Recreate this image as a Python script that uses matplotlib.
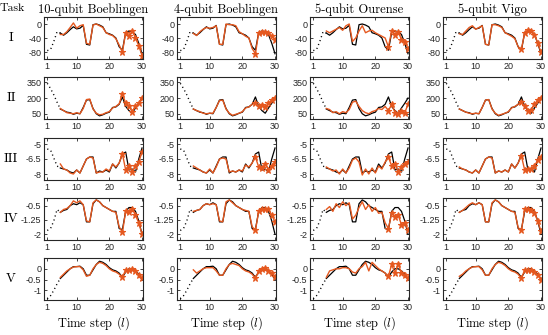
import numpy as np
import matplotlib
matplotlib.use("Agg")
from matplotlib import pyplot as plt

plt.rcParams['axes.unicode_minus'] = False
plt.rcParams['mathtext.fontset'] = 'cm'

steps = np.arange(1, 31)
pred_steps = np.arange(5, 31)

devices = ["10-qubit Boeblingen", "4-qubit Boeblingen", "5-qubit Ourense", "5-qubit Vigo"]
tasks = ["I", "II", "III", "IV", "V"]

# ground truth per task (steps 1..30)
truth_I = [-76, -73, -50, -22, -26, -32, -25, -16, -8, -14, -12, -4, -58, -60, -2, 0, -3, -8, -25, -28,
           -32, -40, -65, -75, -24, -20, -22, -30, -55, -85]
truth_II = [340, 290, 230, 160, 95, 80, 65, 60, 45, 55, 50, 110, 180, 185, 100, 50, 30, 40, 55, 65,
            110, 115, 140, 210, 120, 80, 55, 105, 150, 200]
truth_III = [-5.5, -5.6, -6.4, -7.2, -7.4, -7.5, -7.6, -7.8, -7.9, -7.6, -7.9, -7.2, -6.5, -6.3, -6.3, -7.9, -7.7, -7.8, -7.6, -7.8,
             -7.0, -7.4, -6.9, -6.0, -5.8, -7.6, -7.5, -7.8, -6.5, -5.4]
truth_IV = [-1.8, -1.7, -1.3, -0.7, -0.85, -0.75, -0.7, -0.5, -0.4, -0.45, -0.35, -0.45, -1.35, -1.35, -0.4, -0.2, -0.3, -0.5, -0.6, -0.7,
            -0.8, -0.8, -1.7, -1.75, -0.8, -0.6, -0.6, -0.8, -1.3, -2.0]
truth_V = [-1.4, -1.25, -1.0, -0.7, -0.45, -0.3, -0.15, 0.0, 0.1, 0.1, 0.12, 0.0, -0.3, -0.3, -0.05, 0.2, 0.35, 0.3, 0.2, 0.05,
           -0.05, -0.1, -0.2, -0.4, -0.15, 0.0, 0.0, -0.1, -0.25, -0.5]

# predictions per task and device (steps 5..30)
pred_I = [
    [-30, -30, -22, -10, 3, -12, -5, -2, -55, -58, -3, 0, -5, -10, -25, -30, -33, -42, -60, -80, -25, -35, -20, -40, -62, -90],
    [-27, -33, -22, -15, -10, -12, -10, -5, -58, -58, 0, -2, -2, -5, -22, -28, -35, -40, -70, -85, -25, -22, -22, -25, -35, -45],
    [-20, -25, -20, -15, -10, -18, -5, 0, -50, -40, -20, -5, -25, -20, -18, -25, -30, -35, -40, -65, -20, -30, -22, -45, -50, -70],
    [-28, -30, -20, -10, -5, -15, -10, -5, -58, -60, -2, -2, -5, -10, -25, -30, -35, -42, -65, -72, -25, -18, -20, -30, -55, -80],
]
pred_II = [
    [100, 80, 60, 55, 50, 60, 50, 100, 185, 190, 95, 55, 40, 45, 60, 70, 105, 120, 145, 240, 150, 120, 70, 120, 150, 200],
    [95, 80, 70, 55, 50, 55, 55, 110, 175, 180, 95, 55, 35, 45, 55, 70, 105, 115, 140, 150, 120, 130, 110, 150, 180, 200],
    [100, 90, 60, 70, 50, 70, 60, 90, 160, 170, 120, 80, 60, 50, 70, 80, 100, 90, 120, 80, 140, 60, 50, 80, 60, 140],
    [95, 80, 65, 55, 50, 55, 50, 110, 180, 185, 95, 55, 35, 45, 55, 70, 105, 120, 140, 160, 120, 80, 90, 140, 180, 200],
]
pred_III = [
    [-7.0, -7.5, -7.6, -7.9, -8.0, -7.6, -7.9, -7.2, -6.5, -6.3, -6.4, -7.9, -7.8, -7.8, -7.5, -7.7, -7.0, -7.3, -6.9, -6.0, -7.6, -7.2, -7.8, -7.2, -6.8, -5.8],
    [-7.2, -7.4, -7.6, -7.8, -7.9, -7.5, -7.9, -7.3, -6.5, -6.4, -6.5, -7.8, -7.7, -7.8, -7.6, -7.7, -7.1, -7.3, -6.9, -6.3, -7.3, -7.4, -7.0, -7.6, -7.2, -6.8],
    [-7.3, -7.5, -7.7, -7.6, -8.0, -7.5, -7.9, -7.4, -6.6, -6.4, -6.8, -8.1, -7.5, -8.0, -7.4, -7.9, -7.2, -7.5, -6.8, -6.3, -7.2, -7.0, -7.8, -7.3, -7.0, -6.8],
    [-7.3, -7.5, -7.6, -7.8, -7.9, -7.6, -7.9, -7.2, -6.5, -6.3, -6.4, -7.9, -7.7, -7.8, -7.6, -7.8, -7.0, -7.4, -6.9, -6.2, -7.6, -7.5, -7.5, -7.2, -6.6, -6.3],
]
pred_IV = [
    [-0.85, -0.7, -0.65, -0.5, -0.25, -0.35, -0.25, -0.45, -1.3, -1.35, -0.35, -0.2, -0.3, -0.5, -0.6, -0.7, -0.8, -0.85, -1.6, -1.9, -0.8, -0.85, -0.65, -1.0, -1.4, -2.0],
    [-0.8, -0.75, -0.7, -0.5, -0.4, -0.45, -0.4, -0.45, -1.3, -1.35, -0.3, -0.2, -0.35, -0.5, -0.6, -0.7, -0.75, -0.8, -1.6, -1.8, -0.8, -0.7, -0.65, -0.7, -1.0, -1.35],
    [-0.7, -0.55, -0.8, -0.4, -0.6, -0.3, -0.5, -0.35, -1.2, -1.0, -0.6, -0.3, -0.7, -0.45, -0.8, -0.6, -0.9, -0.85, -1.4, -1.7, -0.9, -1.1, -1.0, -1.5, -1.4, -1.8],
    [-0.85, -0.75, -0.6, -0.45, -0.35, -0.45, -0.35, -0.45, -1.35, -1.35, -0.35, -0.2, -0.3, -0.5, -0.6, -0.7, -0.8, -0.85, -1.65, -1.8, -0.7, -0.7, -0.75, -0.9, -1.3, -1.85],
]
pred_V = [
    [-0.4, -0.25, -0.1, 0.0, 0.08, 0.1, 0.1, -0.05, -0.35, -0.3, 0.0, 0.2, 0.3, 0.25, 0.15, 0.0, -0.1, -0.15, -0.25, -0.4, -0.05, -0.05, 0.0, -0.1, -0.3, -0.45],
    [-0.05, -0.2, -0.1, 0.0, 0.05, 0.05, 0.05, -0.1, -0.3, -0.3, 0.0, 0.2, 0.25, 0.2, 0.15, 0.0, -0.1, -0.15, -0.25, -0.45, -0.1, 0.0, 0.05, -0.1, -0.2, -0.4],
    [-0.4, -0.1, -0.05, 0.0, 0.0, 0.05, 0.05, 0.0, -0.15, -0.2, 0.0, 0.1, 0.3, -0.1, 0.3, 0.15, 0.0, -0.1, -0.2, -0.35, 0.2, -0.2, 0.2, -0.2, -0.3, -0.45],
    [-0.35, -0.25, -0.1, 0.0, 0.08, 0.1, 0.1, -0.05, -0.3, -0.3, 0.0, 0.2, 0.3, 0.25, 0.15, 0.0, -0.1, -0.15, -0.25, -0.45, -0.05, -0.05, -0.05, -0.15, -0.3, -0.5],
]

truths = [truth_I, truth_II, truth_III, truth_IV, truth_V]
preds = [pred_I, pred_II, pred_III, pred_IV, pred_V]
ylims = [(-100, 20), (0, 400), (-8.6, -4.4), (-2.3, -0.1), (-1.45, 0.5)]
yticks = [[-80, -40, 0], [50, 200, 350], [-8, -6.5, -5], [-2, -1.25, -0.5], [-1, -0.5, 0]]
yticklabels = [["-80", "-40", "0"], ["50", "200", "350"], ["-8", "-6.5", "-5"],
               ["-2", "-1.25", "-0.5"], ["-1", "-0.5", "0"]]

orange = '#E5581F'
W, H = 548, 335
fig = plt.figure(figsize=(W / 100, H / 100), dpi=100)

lefts = [44, 177, 310, 443]
tops = [17, 77, 138, 198, 258]
aw, ah = 99, 42

for r in range(5):
    for c in range(4):
        ax = fig.add_axes([lefts[c] / W, 1 - (tops[r] + ah) / H, aw / W, ah / H])
        t = np.array(truths[r])
        ax.plot(steps[:5], t[:5], ':', color='k', lw=1.0, dashes=(0.8, 2.2))
        ax.plot(steps[4:], t[4:], '-', color='k', lw=0.9)
        p = np.array(preds[r][c])
        ax.plot(pred_steps, p, '-', color=orange, lw=1.0)
        ax.plot(pred_steps[-7:], p[-7:], '*', color=orange, ms=4.8, mew=0.8)
        ax.set_xlim(0, 30.3)
        ax.set_ylim(*ylims[r])
        ax.set_xticks([1, 10, 20, 30])
        ax.set_yticks(yticks[r])
        ax.set_yticklabels(yticklabels[r])
        ax.tick_params(direction='in', length=2, width=0.6, labelsize=6.5, pad=2,
                       top=True, right=True, colors='#262626')
        for s in ax.spines.values():
            s.set_linewidth(0.8)
            s.set_color('#262626')
        for lab in ax.get_xticklabels() + ax.get_yticklabels():
            lab.set_fontfamily('Liberation Sans')
        if r == 0:
            ax.set_title(devices[c], fontfamily='cmr10', fontsize=9, pad=3)
        if r == 4:
            ax.set_xlabel(r'Time step ($l$)', fontfamily='cmr10', fontsize=9, labelpad=2)

for r in range(5):
    fig.text(11 / W, 1 - (tops[r] + ah / 2) / H, tasks[r], fontfamily='cmr10', fontsize=9.5,
             ha='center', va='center')
fig.text(12 / W, 1 - 8 / H, "Task", fontfamily='cmr10', fontsize=8.5, ha='center', va='center')

fig.savefig("out.png", dpi=100)
